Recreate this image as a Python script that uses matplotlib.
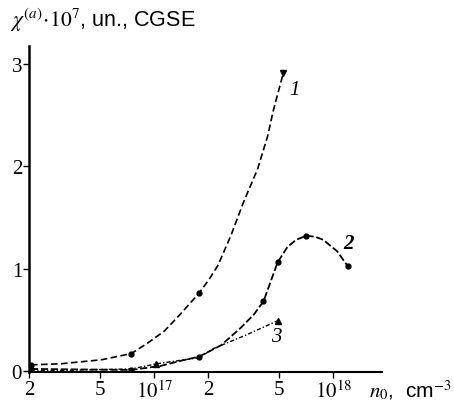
import numpy as np
import matplotlib
matplotlib.use('Agg')
import matplotlib.pyplot as plt

plt.rcParams['mathtext.fontset'] = 'stix'
plt.rcParams['font.family'] = ['Liberation Sans', 'DejaVu Sans']

# curve 1 and its marked points
c1_n = [2.05e16, 3.0e16, 5.1e16, 7.45e16, 9.15e16, 1.14e17, 1.41e17, 1.78e17, 2.02e17, 2.27e17,
        2.68e17, 3.16e17, 3.78e17, 4.3e17, 4.64e17, 5.27e17]
c1_chi = [0.06, 0.07, 0.11, 0.17, 0.27, 0.39, 0.56, 0.76, 0.89, 1.03,
          1.32, 1.65, 1.97, 2.29, 2.55, 2.91]
c1_pts_n = [2.05e16, 7.45e16, 1.78e17]
c1_pts_chi = [0.06, 0.17, 0.76]

# curve 2
c2_n = [2.05e16, 7.45e16, 1.09e17, 1.41e17, 1.78e17, 2.36e17, 3.04e17, 3.6e17, 4.08e17, 4.47e17,
        4.89e17, 5.55e17, 6.2e17, 7.08e17, 7.94e17, 8.8e17, 1.05e18, 1.21e18]
c2_chi = [0.02, 0.01, 0.05, 0.1, 0.14, 0.25, 0.42, 0.55, 0.68, 0.87,
          1.06, 1.21, 1.28, 1.32, 1.31, 1.28, 1.17, 1.02]
c2_pts_n = [2.05e16, 7.45e16, 1.78e17, 4.08e17, 4.89e17, 7.08e17, 1.21e18]
c2_pts_chi = [0.02, 0.01, 0.14, 0.68, 1.06, 1.32, 1.02]

# curve 3
c3_n = [2.05e16, 7.45e16, 1.03e17, 1.78e17, 2.15e17, 3.25e17, 4.89e17]
c3_chi = [0.0, 0.02, 0.07, 0.13, 0.22, 0.35, 0.49]
c3_pts_n = [1.03e17, 4.89e17]
c3_pts_chi = [0.07, 0.49]

xticks = [2e16, 5e16, 1e17, 2e17, 5e17, 1e18]
xticklabels = ['2', '5', '$10^{17}$', '2', '5', '$10^{18}$']
yticks = [0, 1, 2, 3]

fig = plt.figure(figsize=(4.54, 4.14), dpi=100)
ax = fig.add_axes([0.064, 0.099, 0.778, 0.787])

ax.plot(c1_n, c1_chi, color='black', lw=1.2, ls=(0, (4, 2)), dash_joinstyle='round')
ax.plot(c1_pts_n, c1_pts_chi, 'o', color='black', ms=3.5)
ax.plot(c1_n[-1], c1_chi[-1], 'v', color='black', ms=5)

ax.plot(c2_n, c2_chi, color='black', lw=1.3, ls=(0, (4, 1.5)), dash_joinstyle='round')
ax.plot(c2_pts_n, c2_pts_chi, 'o', color='black', ms=3.5)

ax.plot(c3_n, c3_chi, color='black', lw=1.0, ls=(0, (3, 1.5, 1, 1.5)))
ax.plot(c3_pts_n, c3_pts_chi, '^', color='black', ms=4)

ax.annotate('1', (c1_n[-1], c1_chi[-1]), xytext=(4, -12), textcoords='offset points',
            fontsize=15, family='Liberation Serif', style='italic', ha='left', va='center')
ax.annotate('2', (c2_n[-1], c2_chi[-1]), xytext=(0, 17), textcoords='offset points',
            fontsize=15, family='Liberation Serif', style='italic', weight='bold', ha='center', va='center')
ax.annotate('3', (c3_n[-1], c3_chi[-1]), xytext=(-1, -11), textcoords='offset points',
            fontsize=15, family='Liberation Serif', style='italic', ha='center', va='center')

ax.set_xscale('log')
ax.set_xlim(2e16, 1.88e18)
ax.set_ylim(-0.01, 3.17)
ax.set_xticks(xticks)
ax.set_xticklabels(xticklabels)
ax.xaxis.set_minor_locator(matplotlib.ticker.NullLocator())
ax.set_yticks(yticks)
for lab in ax.get_xticklabels() + ax.get_yticklabels():
    lab.set_family('Liberation Serif')
    lab.set_fontsize(15)
ax.tick_params(axis='both', length=4, width=1, pad=2)
ax.tick_params(axis='y', pad=1)

for s in ['top', 'right']:
    ax.spines[s].set_visible(False)
ax.spines['left'].set_linewidth(1.8)
ax.spines['bottom'].set_linewidth(1.5)

fig.text(0.022, 0.952, r'$\chi^{(a)}\!\cdot\!10^7$, un., CGSE', fontsize=15.5, va='center', ha='left')
fig.text(0.995, 0.057, r'$n_0$,  cm$^{-3}$', fontsize=15, va='center', ha='right')

plt.savefig('out.png', dpi=100)
